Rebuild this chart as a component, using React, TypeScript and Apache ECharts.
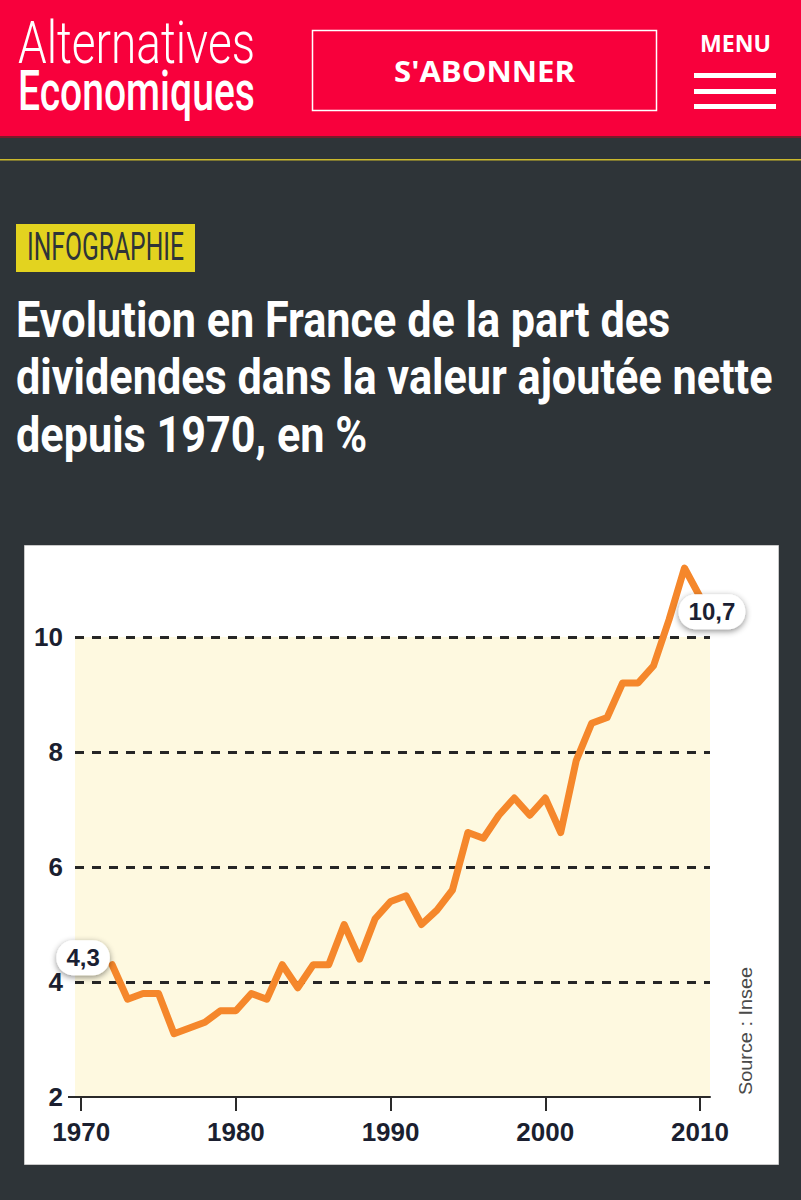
import React, { useEffect, useRef } from 'react';
import * as echarts from 'echarts';

// ---- Data ----
const years: number[] = [
  1972, 1973, 1974, 1975, 1976, 1977, 1978, 1979, 1980, 1981,
  1982, 1983, 1984, 1985, 1986, 1987, 1988, 1989, 1990, 1991,
  1992, 1993, 1994, 1995, 1996, 1997, 1998, 1999, 2000, 2001,
  2002, 2003, 2004, 2005, 2006, 2007, 2008, 2009, 2010,
];
const dividendShare: number[] = [
  4.3, 3.7, 3.8, 3.8, 3.1, 3.2, 3.3, 3.5, 3.5, 3.8,
  3.7, 4.3, 3.9, 4.3, 4.3, 5.0, 4.4, 5.1, 5.4, 5.5,
  5.0, 5.25, 5.6, 6.6, 6.5, 6.9, 7.2, 6.9, 7.2, 6.6,
  7.85, 8.5, 8.6, 9.2, 9.2, 9.5, 10.3, 11.2, 10.7,
];
const xTickYears: number[] = [1970, 1980, 1990, 2000, 2010];
const yTickValues: number[] = [2, 4, 6, 8, 10];
const titleLines: string[] = [
  'Evolution en France de la part des',
  'dividendes dans la valeur ajoutée nette',
  'depuis 1970, en %',
];
const logoLines: string[] = ['Alternatives', 'Economiques'];
const badgeText = 'INFOGRAPHIE';
const subscribeText = "S'ABONNER";
const menuText = 'MENU';
const sourceText = 'Source : Insee';

let ctx2d: CanvasRenderingContext2D | null = null;
function measure(text: string, font: string): number {
  if (!ctx2d) ctx2d = document.createElement('canvas').getContext('2d');
  if (!ctx2d) return 1;
  ctx2d.font = font;
  return ctx2d.measureText(text).width || 1;
}
function fit(text: string, font: string, target: number): number {
  return target / measure(text, font);
}

function textEl(opts: {
  text: string; x: number; y: number; font: string; fill: string;
  align?: string; width?: number; z?: number; rotation?: number;
}) {
  const align = opts.align || 'left';
  const scaleX = opts.width ? fit(opts.text, opts.font, opts.width) : 1;
  return {
    type: 'text',
    x: opts.x,
    y: opts.y,
    scaleX,
    rotation: opts.rotation || 0,
    z: opts.z ?? 10,
    style: {
      text: opts.text,
      fill: opts.fill,
      font: opts.font,
      align,
      textAlign: align,
      verticalAlign: 'middle',
      textVerticalAlign: 'middle',
    },
  };
}

export default function App() {
  const ref = useRef<HTMLDivElement>(null);

  useEffect(() => {
    if (!ref.current) return;
    const chart = echarts.init(ref.current, null, { renderer: 'svg', width: 801, height: 1200 });

    const bubble = {
      show: true,
      position: 'inside',
      fontFamily: '"Liberation Sans", Arial, sans-serif',
      fontWeight: 'bold',
      fontSize: 24,
      color: '#1b1f33',
      backgroundColor: '#ffffff',
      borderRadius: 17,
      padding: [6, 10, 5, 10],
      shadowColor: 'rgba(0,0,0,0.45)',
      shadowBlur: 6,
      shadowOffsetY: 2,
      formatter: (p: any) => String(p.value[1]).replace('.', ','),
    };
    const last = years.length - 1;
    const seriesData = years.map((yr, i) => {
      const item: any = { value: [yr, dividendShare[i]] };
      if (i === 0) item.label = { ...bubble, offset: [-29, -7] };
      if (i === last) item.label = { ...bubble, offset: [12, 15] };
      return item;
    });

    const titleFont = 'bold 50px Roboto';
    const titleTargets = [652, 762, 350];
    const titleScale =
      titleLines.reduce((s, t, i) => s + fit(t, titleFont, titleTargets[i]), 0) / titleLines.length;
    const titleBaselines = [337, 394, 452];

    const graphic: any[] = [
      // header band
      { type: 'rect', shape: { x: 0, y: 0, width: 801, height: 136 }, style: { fill: '#f8003c' }, z: 1 },
      { type: 'rect', shape: { x: 0, y: 136, width: 801, height: 2 }, style: { fill: '#7a1a2a' }, z: 1 },
      { type: 'rect', shape: { x: 0, y: 159, width: 801, height: 1.5 }, style: { fill: '#cbb92c' }, z: 1 },
      textEl({ text: logoLines[0], x: 18, y: 62.5 - 0.34 * 59, font: '300 59px Roboto', fill: '#ffffff', width: 237 }),
      textEl({ text: logoLines[1], x: 18, y: 110 - 0.34 * 55, font: '500 55px Roboto', fill: '#ffffff', width: 237 }),
      {
        type: 'rect', shape: { x: 312.5, y: 30.5, width: 344, height: 80 },
        style: { fill: 'none', stroke: '#ffffff', lineWidth: 1.5 }, z: 5,
      },
      textEl({ text: subscribeText, x: 484.5, y: 82 - 0.39 * 28, font: 'bold 28px "Open Sans"', fill: '#ffffff', align: 'center', width: 181 }),
      textEl({ text: menuText, x: 700, y: 52 - 0.39 * 24, font: 'bold 24px "Open Sans"', fill: '#ffffff', width: 71 }),
      { type: 'rect', shape: { x: 694, y: 73, width: 82, height: 5 }, style: { fill: '#ffffff' }, z: 5 },
      { type: 'rect', shape: { x: 694, y: 89, width: 82, height: 5 }, style: { fill: '#ffffff' }, z: 5 },
      { type: 'rect', shape: { x: 694, y: 104, width: 82, height: 5 }, style: { fill: '#ffffff' }, z: 5 },
      // badge
      { type: 'rect', shape: { x: 16, y: 224, width: 179, height: 48 }, style: { fill: '#e3d31f' }, z: 1 },
      textEl({ text: badgeText, x: 27, y: 260 - 0.34 * 38, font: '38px Roboto', fill: '#2e3438', width: 157 }),
      // title
      ...titleLines.map((t, i) => ({
        type: 'text',
        x: 16,
        y: titleBaselines[i] - 0.34 * 50,
        scaleX: titleScale,
        z: 10,
        style: { text: t, fill: '#ffffff', font: titleFont, align: 'left', textAlign: 'left', verticalAlign: 'middle', textVerticalAlign: 'middle' },
      })),
      // chart card
      {
        type: 'rect', shape: { x: 24.5, y: 545.5, width: 754, height: 619 },
        style: { fill: '#ffffff', stroke: '#c9c9c9', lineWidth: 1 }, z: -5,
      },
      // short extension of the baseline to the left of the plot
      {
        type: 'line', shape: { x1: 68, y1: 1097, x2: 76, y2: 1097 },
        style: { stroke: '#2a2a2a', lineWidth: 2 }, z: 10,
      },
      textEl({ text: sourceText, x: 745, y: 1031, font: '19px "Liberation Sans", Arial, sans-serif', fill: '#4a4a4a', align: 'center', rotation: Math.PI / 2, width: 128 }),
    ];

    const axisFont = {
      fontFamily: '"Liberation Sans", Arial, sans-serif',
      fontWeight: 'bold',
      fontSize: 26,
      color: '#1b1f30',
    };

    chart.setOption({
      animation: false,
      backgroundColor: '#2e3438',
      grid: {
        left: 75, right: 91, top: 637, bottom: 103,
        show: true, backgroundColor: '#fef9e0', borderWidth: 0, z: 0,
      },
      xAxis: {
        type: 'value',
        min: 1969.6,
        max: 2010.65,
        axisLine: { show: true, lineStyle: { color: '#2a2a2a', width: 2 } },
        axisTick: { show: true, customValues: xTickYears, length: 14, lineStyle: { color: '#2a2a2a', width: 2 } },
        axisLabel: { ...axisFont, customValues: xTickYears, margin: 22, formatter: (v: number) => String(Math.round(v)) },
        splitLine: { show: false },
      },
      yAxis: {
        type: 'value',
        min: yTickValues[0],
        max: yTickValues[yTickValues.length - 1],
        interval: 2,
        axisLine: { show: false },
        axisTick: { show: false },
        axisLabel: { ...axisFont, margin: 12 },
        splitLine: {
          show: true,
          showMinLine: false,
          lineStyle: { type: [9, 8], width: 3, color: '#262626' },
        },
      },
      series: [
        {
          type: 'line',
          data: seriesData,
          clip: false,
          symbol: 'circle',
          symbolSize: 1,
          showSymbol: true,
          itemStyle: { color: '#f5872b' },
          lineStyle: { width: 7, color: '#f5872b', join: 'round', cap: 'round' },
          emphasis: { disabled: true },
          z: 5,
        },
      ],
      graphic,
    });

    return () => chart.dispose();
  }, []);

  return (
    <div
      ref={ref}
      style={{ position: 'absolute', left: 0, top: 0, width: 801, height: 1200 }}
    />
  );
}
